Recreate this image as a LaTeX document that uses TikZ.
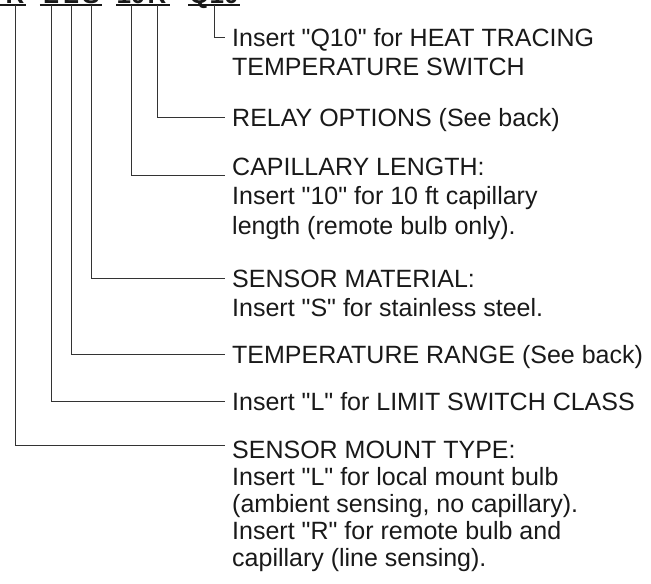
\documentclass[tikz,border=0pt]{standalone}
\usepackage{fontspec}
\setmainfont{Liberation Sans}[Ligatures=TeXOff]
\usetikzlibrary{positioning}
\tikzset{
  codechar/.style={
    font=\fontsize{26pt}{26pt}\selectfont\bfseries,
    inner sep=0pt, anchor=base, text=black!90
  },
  descnode/.style={
    font=\fontsize{25pt}{29.5pt}\selectfont,
    align=left, anchor=base west,
    inner xsep=7pt, inner ysep=0pt, text=black!90
  },
  leadline/.style={line width=0.9pt, black!80},
  codeline/.style={line width=1.6pt, black!90}
}

\begin{document}
\begin{tikzpicture}[x=1pt, y=-1pt]
    \useasboundingbox (0,0) rectangle (651,584);
    \clip (0,0) rectangle (651,584);
    % model code, cut off at the top edge
    \node[codechar] (k1) at (15,3) {R};
    \node[codechar] (k2) at (51,3) {L};
    \node[codechar] (k3) at (71,3) {L};
    \node[codechar] (k4) at (91,3) {S};
    \node[codechar] (k5) at (131,3) {10};
    \node[codechar] (k6) at (157,3) {R};
    \node[codechar] (k7) at (214,3) {Q10};
    \draw[codeline] ([shift={(-10,2)}]k1.base west) -- ([shift={(1,2)}]k1.base east);
    \draw[codeline] ([shift={(-3,2)}]k2.base west) -- ([shift={(2,2)}]k4.base east);
    \draw[codeline] ([shift={(0,2)}]k5.base west) -- ([shift={(3,2)}]k6.base east);
    \draw[codeline] ([shift={(-1,2)}]k7.base west) -- ([shift={(1,2)}]k7.base east);
    % descriptions (placed at the baseline of their last line)
    \node[descnode] (d7) at (225,75.5) {Insert "Q10" for HEAT TRACING\\TEMPERATURE SWITCH};
    \node[descnode] (d6) at (225,126) {RELAY OPTIONS (See back)};
    \node[descnode] (d5) at (225,234) {CAPILLARY LENGTH:\\Insert "10" for 10 ft capillary\\length (remote bulb only).};
    \node[descnode] (d4) at (225,316.5) {SENSOR MATERIAL:\\Insert "S" for stainless steel.};
    \node[descnode] (d3) at (225,363) {TEMPERATURE RANGE (See back)};
    \node[descnode] (d2) at (225,410) {Insert "L" for LIMIT SWITCH CLASS};
    \node[descnode, font=\fontsize{25pt}{27pt}\selectfont] (d1) at (225,566) {SENSOR MOUNT TYPE:\\Insert "L" for local mount bulb\\(ambient sensing, no capillary).\\Insert "R" for remote bulb and\\capillary (line sensing).};
    % leader lines
    \draw[leadline] ([yshift=-2pt]k7.base) |- ([yshift=38.5pt]d7.base west);
    \draw[leadline] ([yshift=-2pt]k6.base) |- ([yshift=9pt]d6.base west);
    \draw[leadline] ([yshift=-2pt]k5.base) |- ([yshift=59pt]d5.base west);
    \draw[leadline] ([yshift=-2pt]k4.base) |- ([yshift=38.5pt]d4.base west);
    \draw[leadline] ([yshift=-2pt]k3.base) |- ([yshift=9pt]d3.base west);
    \draw[leadline] ([yshift=-2pt]k2.base) |- ([yshift=9pt]d2.base west);
    \draw[leadline] ([yshift=-2pt]k1.base) |- ([yshift=121pt]d1.base west);
\end{tikzpicture}
\end{document}
